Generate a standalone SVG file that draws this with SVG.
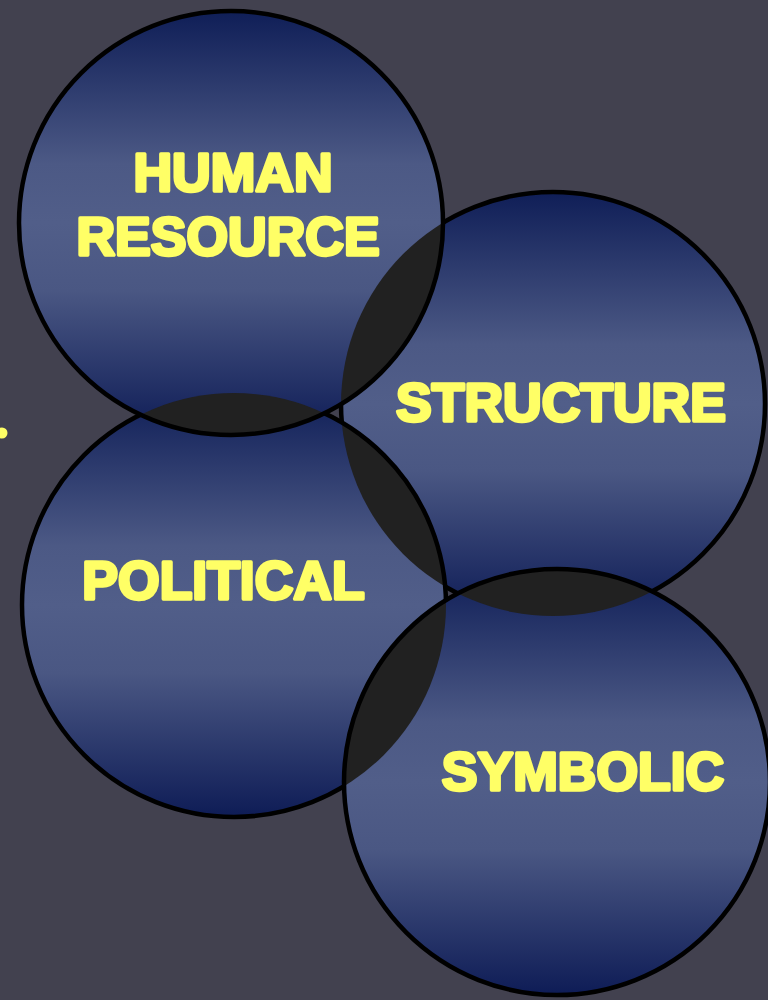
<svg xmlns="http://www.w3.org/2000/svg" xmlns:xlink="http://www.w3.org/1999/xlink" width="768" height="1000" viewBox="0 0 768 1000">
  <style>
    .disc { fill: url(#shade); }
    .rim { fill: none; stroke: #000; stroke-width: 4.5; }
    .overlap { fill: #212121; }
    .label { font-family: "Liberation Sans", Arial, sans-serif; font-weight: bold; font-size: 53.5px;
             fill: #ffff66; stroke: #ffff66; stroke-width: 3.4; stroke-linejoin: round; text-anchor: middle; }
  </style>
  <defs>
    <linearGradient id="shade" x1="0" y1="0" x2="0" y2="1">
      <stop offset="0" stop-color="#0f1e57"/>
      <stop offset="0.36" stop-color="#4c5985"/>
      <stop offset="0.5" stop-color="#515e89"/>
      <stop offset="0.66" stop-color="#4a5783"/>
      <stop offset="1" stop-color="#0e1c56"/>
    </linearGradient>
    <circle id="c-structure" cx="553" cy="404" r="212"/>
    <circle id="c-political" cx="234" cy="605" r="212"/>
    <circle id="c-human" cx="231" cy="223" r="212"/>
    <circle id="c-symbolic" cx="557" cy="782" r="213"/>
    <clipPath id="in-political"><use xlink:href="#c-political"/></clipPath>
    <clipPath id="in-human"><use xlink:href="#c-human"/></clipPath>
    <clipPath id="in-symbolic"><use xlink:href="#c-symbolic"/></clipPath>
  </defs>

  <rect width="768" height="1000" fill="#42414f"/>
  <circle cx="2" cy="433" r="5.5" fill="#ffff66"/>

  <!-- bottom layer: structure -->
  <g id="structure">
    <use xlink:href="#c-structure" class="disc"/>
    <use xlink:href="#c-structure" class="rim"/>
    <text class="label" x="561" y="421">STRUCTURE</text>
  </g>

  <!-- political sits over structure; shared area shaded dark -->
  <g id="political">
    <use xlink:href="#c-political" class="disc"/>
    <g clip-path="url(#in-political)">
      <use xlink:href="#c-structure" class="overlap"/>
    </g>
    <use xlink:href="#c-political" class="rim"/>
    <text class="label" x="223.5" y="598.5">POLITICAL</text>
  </g>

  <!-- human resource sits over structure and political -->
  <g id="human-resource">
    <use xlink:href="#c-human" class="disc"/>
    <g clip-path="url(#in-human)">
      <use xlink:href="#c-structure" class="overlap"/>
      <use xlink:href="#c-political" class="overlap"/>
    </g>
    <use xlink:href="#c-human" class="rim"/>
    <text class="label" x="233" y="191">HUMAN</text>
    <text class="label" x="228" y="255">RESOURCE</text>
  </g>

  <!-- symbolic sits over structure and political -->
  <g id="symbolic">
    <use xlink:href="#c-symbolic" class="disc"/>
    <g clip-path="url(#in-symbolic)">
      <use xlink:href="#c-structure" class="overlap"/>
      <use xlink:href="#c-political" class="overlap"/>
    </g>
    <use xlink:href="#c-symbolic" class="rim"/>
    <text class="label" x="583" y="790">SYMBOLIC</text>
  </g>
</svg>
